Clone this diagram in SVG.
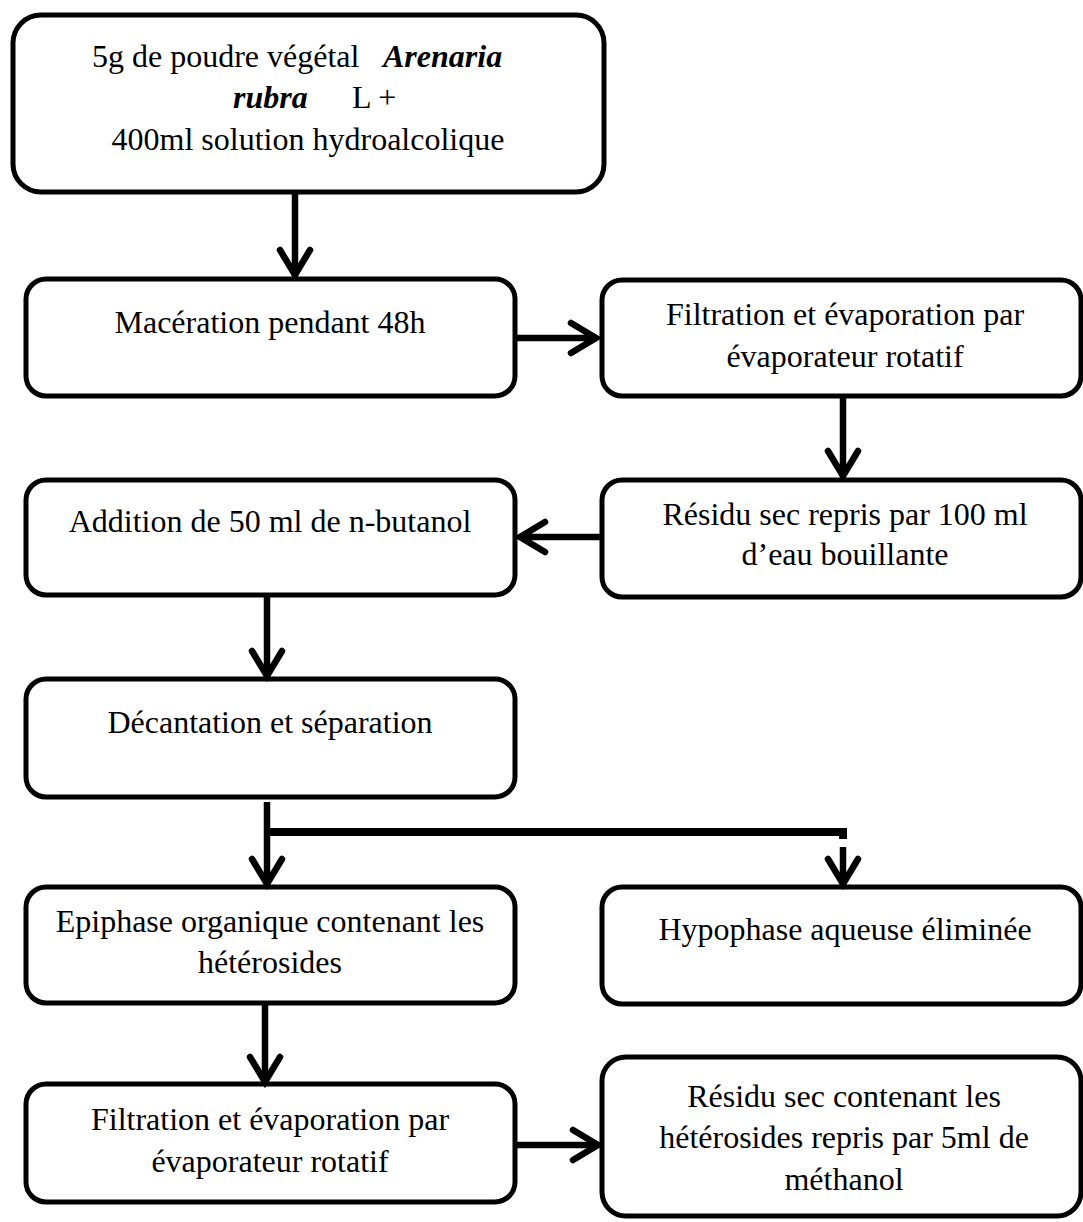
<svg xmlns="http://www.w3.org/2000/svg" width="1083" height="1222" viewBox="0 0 1083 1222">
<style>
.box{fill:#fff;stroke:#000;stroke-width:5}
.t{font-family:"Liberation Serif","Times New Roman",serif;font-size:32px;fill:#000}
.m{text-anchor:middle}
.bi{font-weight:bold;font-style:italic}
.ln{fill:none;stroke:#000;stroke-width:6.5}
.br{fill:none;stroke:#000;stroke-width:8}
.hd{fill:none;stroke:#000;stroke-width:6.5;stroke-linecap:round;stroke-linejoin:miter}
</style>
<rect width="1083" height="1222" fill="#fff"/>
<g id="n1">
<rect class="box" x="13" y="15" width="591" height="177" rx="28"/>
<text class="t" x="92" y="67">5g de poudre végétal<tspan class="bi" x="383">Arenaria</tspan></text>
<text class="t" y="108"><tspan class="bi" x="233">rubra</tspan><tspan x="352">L +</tspan></text>
<text class="t m" x="308" y="150">400ml solution hydroalcolique</text>
</g>
<g id="n2">
<rect class="box" x="26" y="279" width="489" height="117" rx="20"/>
<text class="t m" x="270" y="333">Macération pendant 48h</text>
</g>
<g id="n3">
<rect class="box" x="602" y="280" width="479" height="116" rx="20"/>
<text class="t m" x="845" y="325">Filtration et évaporation par</text>
<text class="t m" x="845" y="367">évaporateur rotatif</text>
</g>
<g id="n4">
<rect class="box" x="602" y="480" width="479" height="117" rx="20"/>
<text class="t m" x="845" y="525">Résidu sec repris par 100 ml</text>
<text class="t m" x="845" y="565">d’eau bouillante</text>
</g>
<g id="n5">
<rect class="box" x="26" y="480" width="489" height="115" rx="20"/>
<text class="t m" x="270" y="532">Addition de 50 ml de n-butanol</text>
</g>
<g id="n6">
<rect class="box" x="26" y="679" width="489" height="118" rx="20"/>
<text class="t m" x="270" y="733">Décantation et séparation</text>
</g>
<g id="n7">
<rect class="box" x="26" y="887" width="489" height="116" rx="20"/>
<text class="t m" x="270" y="932">Epiphase organique contenant les</text>
<text class="t m" x="270" y="973">hétérosides</text>
</g>
<g id="n8">
<rect class="box" x="602" y="887" width="479" height="117" rx="20"/>
<text class="t m" x="845" y="940">Hypophase aqueuse éliminée</text>
</g>
<g id="n9">
<rect class="box" x="26" y="1084" width="489" height="118" rx="20"/>
<text class="t m" x="270" y="1130">Filtration et évaporation par</text>
<text class="t m" x="270" y="1172">évaporateur rotatif</text>
</g>
<g id="n10">
<rect class="box" x="602" y="1057" width="479" height="159" rx="24"/>
<text class="t m" x="844" y="1107">Résidu sec contenant les</text>
<text class="t m" x="844" y="1148">hétérosides repris par 5ml de</text>
<text class="t m" x="844" y="1190">méthanol</text>
</g>
<g id="connectors">
<line class="ln" x1="295" y1="192" x2="295" y2="276"/>
<polyline class="hd" points="280,250 295,275 310,250"/>
<line class="ln" x1="515" y1="338" x2="597" y2="338"/>
<polyline class="hd" points="571,323 596,338 571,353"/>
<line class="ln" x1="843" y1="396" x2="843" y2="476"/>
<polyline class="hd" points="828,451 843,476 858,451"/>
<line class="ln" x1="602" y1="537" x2="520" y2="537"/>
<polyline class="hd" points="545,522 520,537 545,552"/>
<line class="ln" x1="267" y1="595" x2="267" y2="675"/>
<polyline class="hd" points="252,651 267,676 282,651"/>
<line class="ln" x1="267" y1="802" x2="267" y2="883"/>
<polyline class="hd" points="252,859 267,884 282,859"/>
<polyline class="br" points="270,832 843,832 843,839"/>
<line class="ln" x1="843" y1="847" x2="843" y2="884"/>
<polyline class="hd" points="828,859 843,884 858,859"/>
<line class="ln" x1="265" y1="1003" x2="265" y2="1081"/>
<polyline class="hd" points="250,1057 265,1082 280,1057"/>
<line class="ln" x1="515" y1="1145" x2="598" y2="1145"/>
<polyline class="hd" points="573,1130 598,1145 573,1160"/>
</g>
</svg>
